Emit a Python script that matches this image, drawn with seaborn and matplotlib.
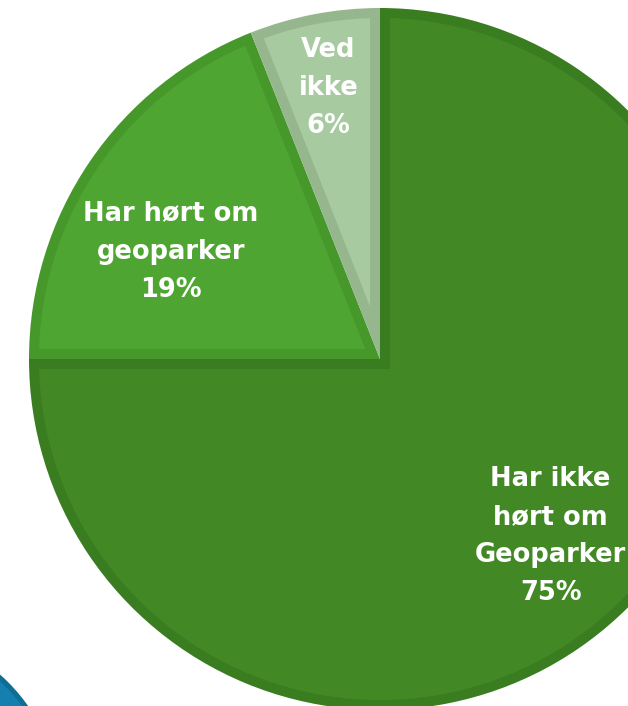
import numpy as np
import matplotlib
matplotlib.use('Agg')
import matplotlib.pyplot as plt
import matplotlib.patches as mpatches
import seaborn as sns

# data
labels = ['Har ikke\nhørt om\nGeoparker', 'Har hørt om\ngeoparker', 'Ved\nikke']
values = [75, 19, 6]
fill_colors = ['#428926', '#4EA531', '#A8CAA0']
edge_colors = ['#3A7D21', '#46982B', '#96B68E']

# label placement (distance from centre as share of radius, angle tweak in degrees)
label_dist = [0.70, 0.67, 0.785]
label_shift = [-1, 7, 0]


def inset_wedge(c, r, t1, t2, d, n=200):
    """polygon of a wedge shrunk inwards by d (for the inner border look)"""
    a1, a2 = np.deg2rad(t1), np.deg2rad(t2)
    n1 = np.array([np.cos(a1 + np.pi / 2), np.sin(a1 + np.pi / 2)])
    n2 = np.array([np.cos(a2 - np.pi / 2), np.sin(a2 - np.pi / 2)])
    corner = np.linalg.solve(np.vstack([n1, n2]), [d, d])
    da = np.arcsin(d / (r - d))
    ang = np.linspace(a1 + da, a2 - da, n)
    arc = np.column_stack([(r - d) * np.cos(ang), (r - d) * np.sin(ang)])
    pts = np.vstack([corner, arc]) + np.asarray(c)
    return pts


sns.set_theme(style='white')
plt.rcParams['font.family'] = ['DejaVu Sans']

W, H = 628, 706
fig = plt.figure(figsize=(W / 100, H / 100), dpi=100)
ax = fig.add_axes([0, 0, 1, 1])

cx, cy, R = 380, H - 359, 351
border = 10

# the pie itself in the border colours, lighter fill laid on top
wedges, _ = ax.pie(values, colors=edge_colors, startangle=90, counterclock=False,
                   center=(cx, cy), radius=R, frame=True,
                   wedgeprops=dict(linewidth=0))
for w, fc in zip(wedges, fill_colors):
    pts = inset_wedge(w.center, w.r, w.theta1, w.theta2, border)
    ax.add_patch(mpatches.Polygon(pts, closed=True, facecolor=fc, edgecolor='none'))

# one data unit = one pixel
ax.set_aspect('auto')
ax.set_xlim(0, W)
ax.set_ylim(0, H)
ax.axis('off')

total = sum(values)
for w, lab, v, d, s in zip(wedges, labels, values, label_dist, label_shift):
    mid = np.deg2rad((w.theta1 + w.theta2) / 2 + s)
    x = cx + d * R * np.cos(mid)
    y = cy + d * R * np.sin(mid)
    ax.text(x, y, f'{lab}\n{round(100 * v / total)}%', ha='center', va='center',
            color='white', fontsize=18.5, fontweight='bold', linespacing=1.6)

# piece of a blue shape peeking in at the lower left corner
ax.add_patch(mpatches.Circle((-120, H - 810), 181, facecolor='#0F6E96', edgecolor='none'))
ax.add_patch(mpatches.Circle((-120, H - 810), 176, facecolor='#1580AF', edgecolor='none'))

fig.savefig('out.png', dpi=100, facecolor='white')
